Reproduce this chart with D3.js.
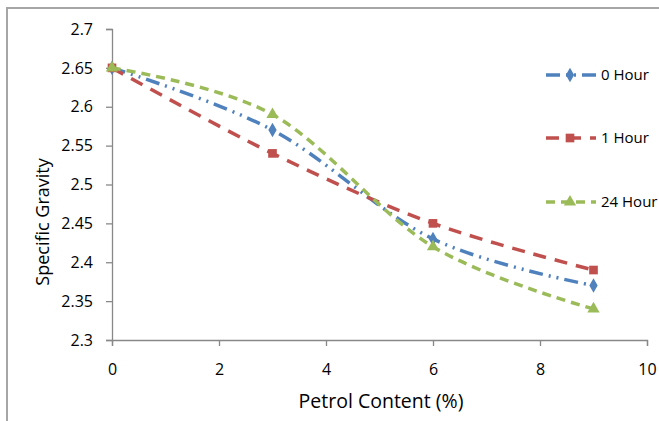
<!DOCTYPE html>
<html><head><meta charset="utf-8">
<script src="https://cdn.jsdelivr.net/npm/d3@7"></script>
<style>body{margin:0;background:#fff}svg{display:block}text{font-family:"Open Sans",sans-serif;fill:#000}</style>
</head><body><svg id="c" width="659" height="421"></svg>
<script>
const xValues = [0, 3, 6, 9];
const hour0 = [2.65, 2.57, 2.43, 2.37];
const hour1 = [2.65, 2.54, 2.45, 2.39];
const hour24 = [2.65, 2.59, 2.42, 2.34];
const seriesNames = ["0 Hour", "1 Hour", "24 Hour"];
const xTicks = [0, 2, 4, 6, 8, 10];
const yTicks = [2.3, 2.35, 2.4, 2.45, 2.5, 2.55, 2.6, 2.65, 2.7];

const FONT = '"Open Sans",sans-serif';
const svg = d3.select("#c");
svg.append("path").attr("d", "M7,421 V8 H659").attr("fill", "none").attr("stroke", "#a6a6a6").attr("stroke-width", 2);

const x = d3.scaleLinear().domain([0, 10]).range([112, 647]);
const y = d3.scaleLinear().domain([2.3, 2.7]).range([340, 29]);

const gx = svg.append("g").attr("transform", "translate(0,340)")
  .call(d3.axisBottom(x).tickValues(xTicks).tickSize(6).tickPadding(18).tickFormat(d3.format("d")));
const gy = svg.append("g").attr("transform", "translate(112,0)")
  .call(d3.axisLeft(y).tickValues(yTicks).tickSize(6).tickPadding(13).tickFormat(d => String(+d.toFixed(2))));
[gx, gy].forEach(g => {
  g.attr("font-family", FONT).attr("font-size", 16);
  g.select(".domain").attr("stroke", "#888").attr("stroke-width", 1.3);
  g.selectAll(".tick line").attr("stroke", "#888").attr("stroke-width", 1.3);
  g.selectAll(".tick text").attr("fill", "#000");
});

svg.append("text").attr("x", 381).attr("y", 408).attr("text-anchor", "middle").attr("font-size", 19.5).text("Petrol Content (%)");
svg.append("text").attr("transform", "translate(49,222) rotate(-90)").attr("text-anchor", "middle").attr("font-size", 18).text("Specific Gravity");

const series = [
  {name: seriesNames[0], vals: hour0, color: "#4F81BD", dash: "14,6,2,6,2,6", marker: "diamond"},
  {name: seriesNames[1], vals: hour1, color: "#C0504D", dash: "13,9", marker: "square"},
  {name: seriesNames[2], vals: hour24, color: "#9BBB59", dash: "9,6", marker: "triangle"}
];
const line = d3.line().x(d => x(d[0])).y(d => y(d[1])).curve(d3.curveCatmullRom.alpha(0));
const sym = {diamond: d3.symbolDiamond, square: d3.symbolSquare, triangle: d3.symbolTriangle};
const symSize = {diamond: 60, square: 75, triangle: 65};

series.forEach(s => {
  const pts = xValues.map((xv, i) => [xv, s.vals[i]]);
  svg.append("path").attr("d", line(pts)).attr("fill", "none").attr("stroke", s.color)
    .attr("stroke-width", 3.5).attr("stroke-dasharray", s.dash);
  svg.selectAll(null).data(pts).enter().append("path")
    .attr("d", d3.symbol().type(sym[s.marker]).size(symSize[s.marker]))
    .attr("transform", d => `translate(${x(d[0])},${y(d[1])})`).attr("fill", s.color);
});

const legendY = [75, 138, 202];
series.forEach((s, i) => {
  const ly = legendY[i];
  svg.append("line").attr("x1", 546).attr("x2", 596).attr("y1", ly).attr("y2", ly)
    .attr("stroke", s.color).attr("stroke-width", 3.5).attr("stroke-dasharray", s.dash);
  svg.append("path").attr("d", d3.symbol().type(sym[s.marker]).size(symSize[s.marker]))
    .attr("transform", `translate(570,${ly})`).attr("fill", s.color);
  svg.append("text").attr("x", 601).attr("y", ly + 5).attr("font-size", 15).text(s.name);
});
</script></body></html>
